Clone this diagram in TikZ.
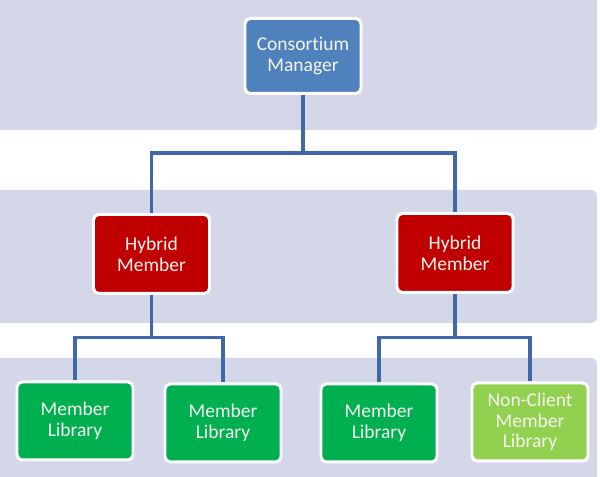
\documentclass[tikz,border=0pt]{standalone}
\usepackage{fontspec}
\setmainfont[Ligatures=NoCommon]{Carlito}
\usepackage{tikz}
\usetikzlibrary{positioning}

\definecolor{bandgray}{HTML}{D4D7E8}
\definecolor{mgrblue}{HTML}{4F81BD}
\definecolor{hybridred}{HTML}{C00000}
\definecolor{libgreen}{HTML}{00B050}
\definecolor{nonclient}{HTML}{92D050}
\definecolor{wireblue}{HTML}{4068A8}
\definecolor{boxtext}{HTML}{F6F6EE}

\begin{document}
\begin{tikzpicture}[
  every node/.style={font=\fontsize{11.1}{11.8}\selectfont},
  orgbox/.style={draw=white, line width=1.7pt, rounded corners=3pt, text=boxtext,
    minimum width=2.32cm, minimum height=1.56cm, align=center},
  wire/.style={draw=wireblue, line width=2pt}]
  \useasboundingbox (0,0) rectangle (12,9.54);
  % background bands
  \fill[bandgray, rounded corners=3pt] (-0.2,6.94) rectangle (11.94,9.8);
  \fill[bandgray, rounded corners=3pt] (-0.2,3.08) rectangle (11.94,5.74);
  \fill[bandgray, rounded corners=3pt] (-0.2,-0.2) rectangle (11.94,2.38);

  \node[orgbox, fill=mgrblue, minimum height=1.5cm] (manager) at (6.06,8.42) {Consortium\\Manager};
  \node[orgbox, fill=hybridred, minimum height=1.58cm] (hybridL) at (3.03,4.46) {Hybrid\\Member};
  \node[orgbox, fill=hybridred, minimum height=1.58cm] (hybridR) at (9.10,4.48) {Hybrid\\Member};

  \node[orgbox, fill=libgreen] (libA) at (1.50,1.12) {Member\\Library};
  \node[orgbox, fill=libgreen] (libB) at (4.46,1.08) {Member\\Library};
  \node[orgbox, fill=libgreen] (libC) at (7.58,1.08) {Member\\Library};
  \node[orgbox, fill=nonclient] (libD) at (10.60,1.10) {Non-Client\\Member\\Library};

  % connectors
  \coordinate (busTop) at (6.06,6.48);
  \coordinate (busL) at (3.03,2.79);
  \coordinate (busR) at (9.10,2.79);
  \draw[wire] (manager.south) -- (busTop);
  \draw[wire] (hybridL.north) |- (busTop) -| (hybridR.north);
  \draw[wire] (hybridL.south) -- (busL);
  \draw[wire] (libA.north) |- (busL) -| (libB.north);
  \draw[wire] (hybridR.south) -- (busR);
  \draw[wire] (libC.north) |- (busR) -| (libD.north);
\end{tikzpicture}
\end{document}
